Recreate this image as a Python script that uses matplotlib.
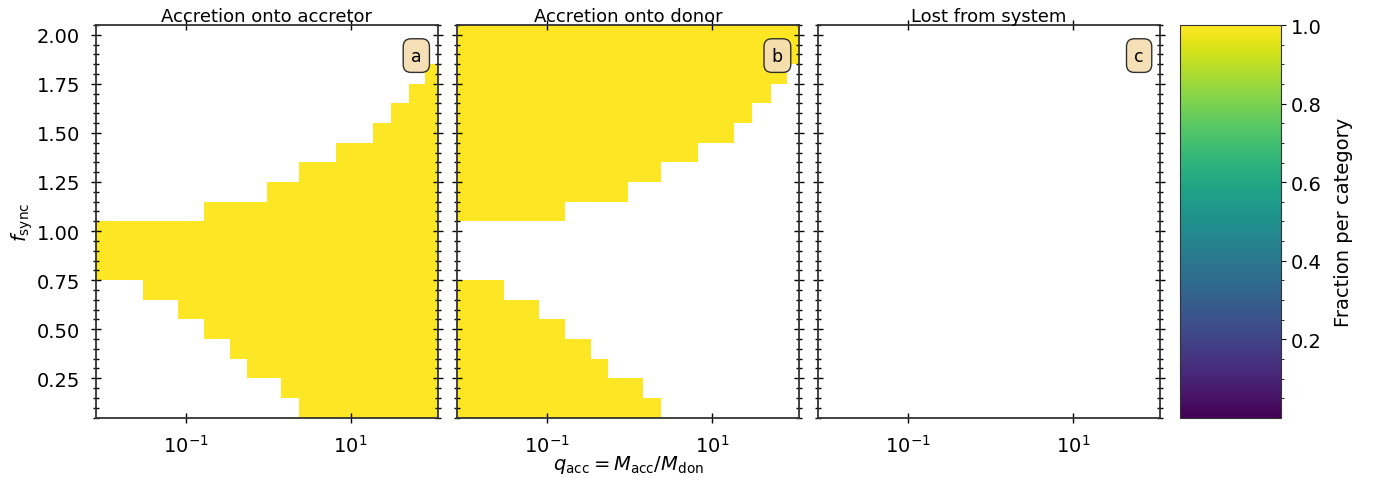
import numpy as np
import matplotlib
matplotlib.use("Agg")
import matplotlib.pyplot as plt
from matplotlib.ticker import MultipleLocator, NullLocator, FixedLocator

# ---- data ----
# bin edges in mass ratio q_acc (log-spaced irregular grid)
q_edges = [0.00813, 0.0303, 0.0794, 0.165, 0.341, 0.553, 0.959, 1.445,
           2.39, 6.71, 18.5, 31.1, 51.9, 81.1, 114.3]
# f_sync bin centres
f_sync = [0.1, 0.2, 0.3, 0.4, 0.5, 0.6, 0.7, 0.8, 0.9, 1.0,
          1.1, 1.2, 1.3, 1.4, 1.5, 1.6, 1.7, 1.8, 1.9, 2.0]
# q at which mass transfer switches from accretion onto donor to accretion onto accretor
split_q = [2.39, 1.445, 0.553, 0.341, 0.165, 0.0794, 0.0303, 0.00813, 0.00813, 0.00813,
           0.165, 0.959, 2.39, 6.71, 18.5, 31.1, 51.9, 81.1, 114.3, 114.3]
titles = ["Accretion onto accretor", "Accretion onto donor", "Lost from system"]
panel_labels = ["a", "b", "c"]

# ---- build grids ----
qe = np.array(q_edges)
qc = np.sqrt(qe[:-1] * qe[1:])
fs = np.array(f_sync)
fe = np.concatenate([[fs[0] - 0.05], (fs[:-1] + fs[1:]) / 2, [fs[-1] + 0.05]])
sp = np.array(split_q)
frac_acc = (qc[None, :] >= sp[:, None]).astype(float)
frac_don = 1.0 - frac_acc
frac_lost = np.zeros_like(frac_acc)
grids = [frac_acc, frac_don, frac_lost]

fig = plt.figure(figsize=(13.73, 4.81), dpi=100)
W, H = 1373, 481
bottom = 1 - 418.5 / H
height = (418.5 - 26) / H
lefts = [96, 457.3, 818.3]
pw = 341.7

cmap = plt.get_cmap("viridis")
vmin, vmax = 1e-3, 1.0
axes = []
mesh = None
for i in range(3):
    ax = fig.add_axes([lefts[i] / W, bottom, pw / W, height])
    axes.append(ax)
    data = np.ma.masked_where(grids[i] <= 0, grids[i])
    mesh = ax.pcolormesh(qe, fe, data, cmap=cmap, vmin=vmin, vmax=vmax, shading="flat")
    ax.set_xscale("log")
    ax.set_xlim(qe[0], qe[-1])
    ax.set_ylim(fe[0], fe[-1])
    ax.xaxis.set_major_locator(FixedLocator([0.1, 10]))
    ax.xaxis.set_minor_locator(NullLocator())
    ax.yaxis.set_major_locator(MultipleLocator(0.25))
    ax.yaxis.set_minor_locator(MultipleLocator(0.05))
    ax.yaxis.set_major_formatter(matplotlib.ticker.FormatStrFormatter("%.2f"))
    ax.tick_params(which="both", direction="inout", top=True, right=True,
                   labelsize=14, pad=8)
    ax.tick_params(which="major", length=7, width=1)
    ax.tick_params(which="minor", length=4.5, width=1)
    if i > 0:
        ax.tick_params(labelleft=False)
    for s in ax.spines.values():
        s.set_color("0.2")
        s.set_linewidth(1.3)
    ax.set_title(titles[i], fontsize=13, pad=1.5)
    ax.text(0.953, 0.945, panel_labels[i], transform=ax.transAxes, ha="right", va="top",
            fontsize=12.5,
            bbox=dict(boxstyle="round,pad=0.45", facecolor="wheat", edgecolor="0.15", alpha=0.95))

axes[0].set_ylabel(r"$f_{\rm sync}$", fontsize=14, labelpad=1)
axes[1].set_xlabel(r"$q_{\rm acc} = M_{\rm acc}/M_{\rm don}$", fontsize=14, labelpad=-2)

cax = fig.add_axes([1180 / W, bottom, 100.7 / W, height])
cb = fig.colorbar(mesh, cax=cax)
cb.set_label("Fraction per category", fontsize=14, labelpad=9)
cb.ax.yaxis.set_minor_locator(MultipleLocator(0.05))
cb.ax.tick_params(labelsize=14)
cb.outline.set_edgecolor("0.2")

fig.savefig("out.png", dpi=100)
